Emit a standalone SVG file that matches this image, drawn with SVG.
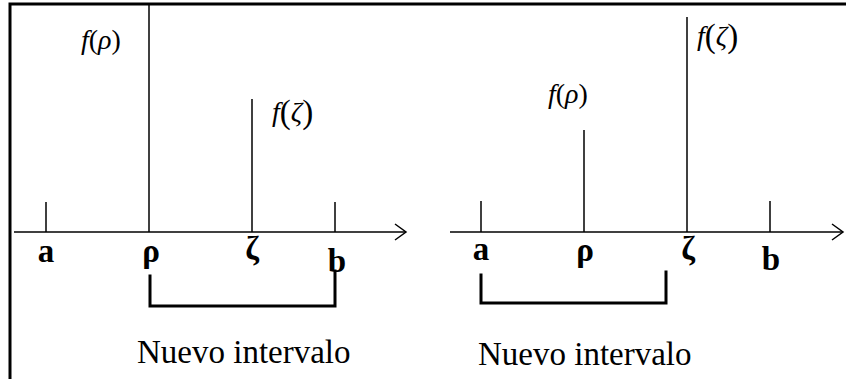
<svg xmlns="http://www.w3.org/2000/svg" width="846" height="379" viewBox="0 0 846 379">
<defs>
<style>
.ln{stroke:#000;stroke-width:1.5;fill:none}
.br{stroke:#000;stroke-width:3;fill:none;stroke-linecap:square}
.bd{stroke:#000;stroke-width:3;fill:none}
.lab{font-family:"Liberation Serif","Times New Roman",serif;font-weight:bold;font-size:33px;text-anchor:middle;fill:#000}
.cap{font-family:"Liberation Serif","Times New Roman",serif;font-size:33px;fill:#000}
.fx{font-family:"Liberation Serif","Times New Roman",serif;font-size:28px;fill:#000}
.it{font-style:italic}
</style>
<marker id="arr" markerWidth="14" markerHeight="18" refX="12" refY="9" orient="auto" markerUnits="userSpaceOnUse">
<path d="M1,1 L12,9 L1,17" stroke="#000" stroke-width="1.5" fill="none"/>
</marker>
</defs>
<rect width="846" height="379" fill="#fff"/>
<g id="border">
<path class="bd" d="M10,379 V4 H846"/>
</g>
<g id="connectors">
<line class="ln" x1="14" y1="232" x2="406" y2="232" marker-end="url(#arr)"/>
<line class="ln" x1="46" y1="202" x2="46" y2="232"/>
<line class="ln" x1="149" y1="5" x2="149" y2="232"/>
<line class="ln" x1="252" y1="99" x2="252" y2="232"/>
<line class="ln" x1="335" y1="202" x2="335" y2="232"/>
<path class="br" d="M150,276 V306 H335 V271"/>
<line class="ln" x1="450" y1="232" x2="843" y2="232" marker-end="url(#arr)"/>
<line class="ln" x1="481" y1="201" x2="481" y2="232"/>
<line class="ln" x1="584" y1="130" x2="584" y2="232"/>
<line class="ln" x1="687" y1="17" x2="687" y2="232"/>
<line class="ln" x1="770" y1="201" x2="770" y2="232"/>
<path class="br" d="M481,275 V303 H666 V272"/>
</g>
<g id="left-panel">
<text class="fx" x="81" y="49"><tspan class="it">f</tspan>(<tspan class="it">ρ</tspan>)</text>
<text class="fx" x="272" y="121"><tspan class="it">f</tspan><tspan font-size="33" dy="2">(</tspan><tspan class="it" dy="-2">ζ</tspan><tspan font-size="33" dy="2">)</tspan></text>
<text class="lab" x="46" y="262">a</text>
<text class="lab" x="151" y="262">ρ</text>
<text class="lab" x="252" y="259">ζ</text>
<text class="lab" x="337" y="272">b</text>
<text class="cap" x="137" y="363">Nuevo intervalo</text>
</g>
<g id="right-panel">
<text class="fx" x="548" y="103"><tspan class="it">f</tspan>(<tspan class="it">ρ</tspan>)</text>
<text class="fx" x="697" y="45"><tspan class="it">f</tspan><tspan font-size="33" dy="2">(</tspan><tspan class="it" dy="-2">ζ</tspan><tspan font-size="33" dy="2">)</tspan></text>
<text class="lab" x="481" y="260">a</text>
<text class="lab" x="585" y="261">ρ</text>
<text class="lab" x="688" y="259">ζ</text>
<text class="lab" x="771" y="270">b</text>
<text class="cap" x="478" y="365">Nuevo intervalo</text>
</g>
</svg>
